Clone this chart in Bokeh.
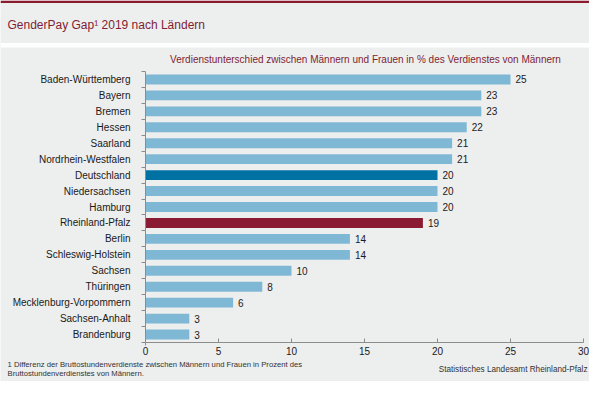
from bokeh.plotting import figure
from bokeh.models import ColumnDataSource, Range1d, FixedTicker, Label, LinearAxis
from bokeh.core.properties import value
from bokeh.embed import file_html
from bokeh.resources import INLINE

# ---- data ----
states = ["Baden-Württemberg", "Bayern", "Bremen", "Hessen", "Saarland",
          "Nordrhein-Westfalen", "Deutschland", "Niedersachsen", "Hamburg",
          "Rheinland-Pfalz", "Berlin", "Schleswig-Holstein", "Sachsen",
          "Thüringen", "Mecklenburg-Vorpommern", "Sachsen-Anhalt", "Brandenburg"]
gap = [25, 23, 23, 22, 21, 21, 20, 20, 20, 19, 14, 14, 10, 8, 6, 3, 3]
x_ticks = [0, 5, 10, 15, 20, 25, 30]
x_min, x_max = 0, 30

title_text = "GenderPay Gap¹ 2019 nach Ländern"
subtitle_text = "Verdienstunterschied zwischen Männern und Frauen in % des Verdienstes von Männern"
foot1 = "1 Differenz der Bruttostundenverdienste zwischen Männern und Frauen in Prozent des"
foot2 = "Bruttostundenverdienstes von Männern."
source_text = "Statistisches Landesamt Rheinland-Pfalz"

# ---- styles / layout (pixels, measured from top-left of canvas) ----
W, H = 589, 381
BG = "#edeeee"
RED = "#8a1b32"
STRIPE = "#8b1c30"
TITLE_C = "#7e1e35"
BLUE_L = "#7fb8d4"
BLUE_D = "#0071a3"
AXIS = "#8c8c8c"
TXT = "#1a1a1a"
FOOT_C = "#333333"
FONT = "Liberation Sans"
highlight = {"Deutschland": BLUE_D, "Rheinland-Pfalz": RED}

F_LEFT, F_RIGHT, F_TOP, F_BOTTOM = 145, 583, 71, 342

n = len(states)
ys = [n - i for i in range(n)]
colors = [highlight.get(s, BLUE_L) for s in states]

def Y(top):
    return H - top

# value range mapped over whole canvas so that x_min..x_max sit in the frame box
ppx = (F_RIGHT - F_LEFT) / (x_max - x_min)
val_range = Range1d(x_min - F_LEFT / ppx, x_max + (W - F_RIGHT) / ppx)
c_lo, c_hi = 0.5, n + 0.5
ppy = (F_BOTTOM - F_TOP) / (c_hi - c_lo)
cat_range = Range1d(c_lo - (H - F_BOTTOM) / ppy, c_hi + F_TOP / ppy)

p = figure(width=W, height=H, x_range=Range1d(0, W), y_range=Range1d(0, H),
           output_backend="svg", toolbar_location=None, title_location=None,
           x_axis_location=None, y_axis_location=None, min_border=0,
           background_fill_color=BG, border_fill_color=BG, outline_line_color=None)
p.grid.visible = False
p.extra_x_ranges = {"val": val_range}
p.extra_y_ranges = {"cat": cat_range}

# decoration: top stripe and white separator
p.quad(left=[0], right=[W], bottom=[Y(2.5)], top=[Y(0)], fill_color=STRIPE, line_color=None)
p.quad(left=[0], right=[W], bottom=[Y(47)], top=[Y(42.5)], fill_color="white", line_color=None)

# ---- chart ----
src = ColumnDataSource(dict(y=ys, gap=gap, name=states, color=colors,
                            label=[str(v) for v in gap]))
p.hbar(y="y", left=0, right="gap", height=0.62, fill_color="color", line_color=None,
       source=src, x_range_name="val", y_range_name="cat")
p.text(x="gap", y="y", text="label", x_offset=5, text_baseline="middle", text_align="left",
       text_font=value(FONT), text_font_size="10px", text_color=TXT, source=src,
       x_range_name="val", y_range_name="cat")

xa = LinearAxis(x_range_name="val", y_range_name="cat", fixed_location=c_lo,
                ticker=FixedTicker(ticks=x_ticks), bounds=(x_min, x_max))
xa.axis_line_color = AXIS
xa.major_tick_line_color = AXIS
xa.major_tick_in = 4
xa.major_tick_out = 0
xa.minor_tick_line_color = None
xa.major_label_text_font = FONT
xa.major_label_text_font_size = "10px"
xa.major_label_text_color = TXT
xa.major_label_standoff = 4
p.add_layout(xa, "below")

ya = LinearAxis(x_range_name="val", y_range_name="cat", fixed_location=x_min,
                ticker=FixedTicker(ticks=ys, minor_ticks=[k + 0.5 for k in range(n + 1)]),
                bounds=(c_lo - 3 / ppy, c_hi))
ya.major_label_overrides = {y: s for y, s in zip(ys, states)}
ya.axis_line_color = AXIS
ya.major_tick_line_color = None
ya.major_tick_in = 0
ya.major_tick_out = 0
ya.minor_tick_line_color = AXIS
ya.minor_tick_in = 0
ya.minor_tick_out = 4
ya.major_label_text_font = FONT
ya.major_label_text_font_size = "10px"
ya.major_label_text_color = TXT
ya.major_label_standoff = 11
p.add_layout(ya, "left")

# ---- texts ----
p.add_layout(Label(x=7, y=Y(24), text=title_text, text_font=FONT, text_font_size="12px",
                   text_color=TITLE_C, text_baseline="middle", text_align="left"))
p.add_layout(Label(x=(F_LEFT + F_RIGHT) / 2 + 1, y=Y(59), text=subtitle_text,
                   text_font=FONT, text_font_size="10px", text_color=TITLE_C,
                   text_align="center", text_baseline="middle"))
p.add_layout(Label(x=7, y=Y(364), text=foot1, text_font=FONT, text_font_size="7.7px",
                   text_color=FOOT_C, text_align="left", text_baseline="middle"))
p.add_layout(Label(x=7, y=Y(373), text=foot2, text_font=FONT, text_font_size="7.7px",
                   text_color=FOOT_C, text_align="left", text_baseline="middle"))
p.add_layout(Label(x=587, y=Y(369), text=source_text, text_font=FONT, text_font_size="8.2px",
                   text_color=FOOT_C, text_align="right", text_baseline="middle"))

open("out.html", "w").write(file_html(p, INLINE))
